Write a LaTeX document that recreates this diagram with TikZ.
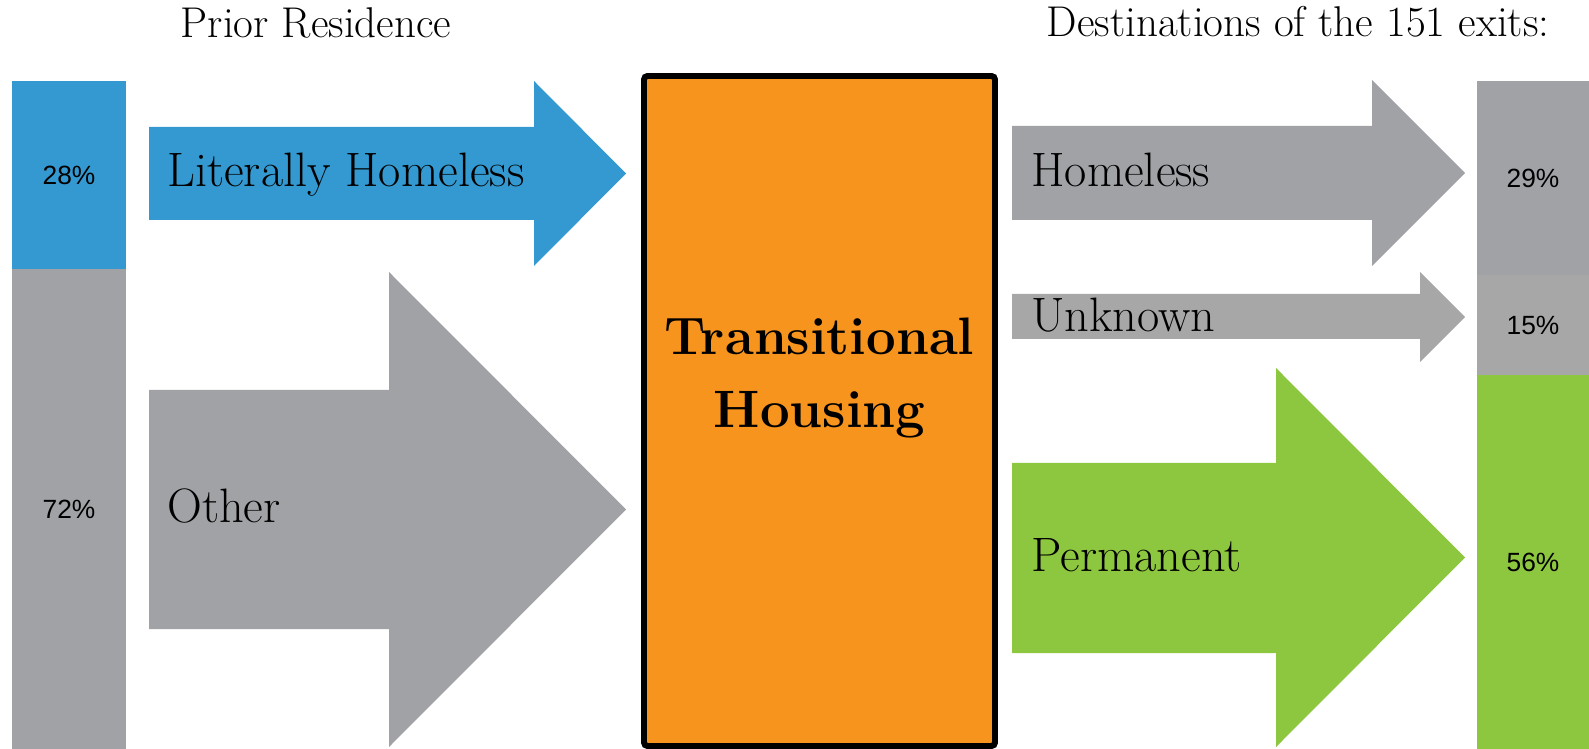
\documentclass[tikz,border=0pt]{standalone}
\usepackage{fontspec}
\newfontfamily\pctfont{Liberation Sans}

\definecolor{thblue}{RGB}{51,153,208}
\definecolor{thgray}{RGB}{161,162,166}
\definecolor{thlightgray}{RGB}{167,167,167}
\definecolor{thorange}{RGB}{247,148,30}
\definecolor{thgreen}{RGB}{141,198,63}

\begin{document}
\begin{tikzpicture}[x=0.02cm,y=-0.02cm,
  heading/.style={anchor=base,inner sep=0pt,font=\fontsize{24.5}{29}\selectfont},
  flowlabel/.style={anchor=base west,inner sep=0pt,font=\fontsize{27.5}{33}\selectfont},
  pct/.style={inner sep=0pt,font=\pctfont\fontsize{15}{18}\selectfont},
  thlabel/.style={anchor=base,inner sep=0pt,font=\fontsize{30}{36}\selectfont\bfseries}]

\useasboundingbox (0,0) rectangle (1589,749);
\clip (0,0) rectangle (1589,749);

% Headings
\node[heading] (prior) at (316,38) {Prior Residence};
\node[heading] (dest) at (1298,37) {Destinations of the 151 exits:};

% Left bar
\fill[thblue] (12,81) rectangle (126,269);
\fill[thgray] (12,269) rectangle (126,760);
\node[pct] (pctlit) at (69,175) {28\%};
\node[pct] (pctother) at (69,509) {72\%};

% Literally homeless arrow
\fill[thblue] (149,127) -- (534,127) -- (534,81) -- (626,173.5)
  -- (534,266) -- (534,220) -- (149,220) -- cycle;
\node[flowlabel] (lit) at (167,187) {Literally Homeless};

% Other arrow
\fill[thgray] (149,390) -- (389,390) -- (389,272) -- (626,509.5)
  -- (389,747) -- (389,629) -- (149,629) -- cycle;
\node[flowlabel] (other) at (167,523) {Other};

% Transitional housing box
\draw[fill=thorange,line width=3.4pt,rounded corners=2pt] (644,76) rectangle (995,746);
\node[thlabel] (th1) at (819.5,355) {Transitional};
\node[thlabel] (th2) at (819.5,428) {Housing};

% Homeless arrow
\fill[thgray] (1012,126) -- (1372,126) -- (1372,80) -- (1465,173)
  -- (1372,266) -- (1372,220) -- (1012,220) -- cycle;
\node[flowlabel] (homeless) at (1031,187) {Homeless};

% Unknown arrow
\fill[thlightgray] (1012,294) -- (1420,294) -- (1420,272) -- (1465,317)
  -- (1420,362) -- (1420,339) -- (1012,339) -- cycle;
\node[flowlabel] (unknown) at (1031,332) {Unknown};

% Permanent arrow
\fill[thgreen] (1012,463) -- (1276,463) -- (1276,368) -- (1465,557.5)
  -- (1276,747) -- (1276,653) -- (1012,653) -- cycle;
\node[flowlabel] (permanent) at (1031,572) {Permanent};

% Right bar
\fill[thgray] (1477,81) rectangle (1600,275);
\fill[thlightgray] (1477,275) rectangle (1600,375);
\fill[thgreen] (1477,375) rectangle (1600,760);
\node[pct] (pcthomeless) at (1533,178) {29\%};
\node[pct] (pctunknown) at (1533,325) {15\%};
\node[pct] (pctperm) at (1533,562) {56\%};

\end{tikzpicture}
\end{document}
